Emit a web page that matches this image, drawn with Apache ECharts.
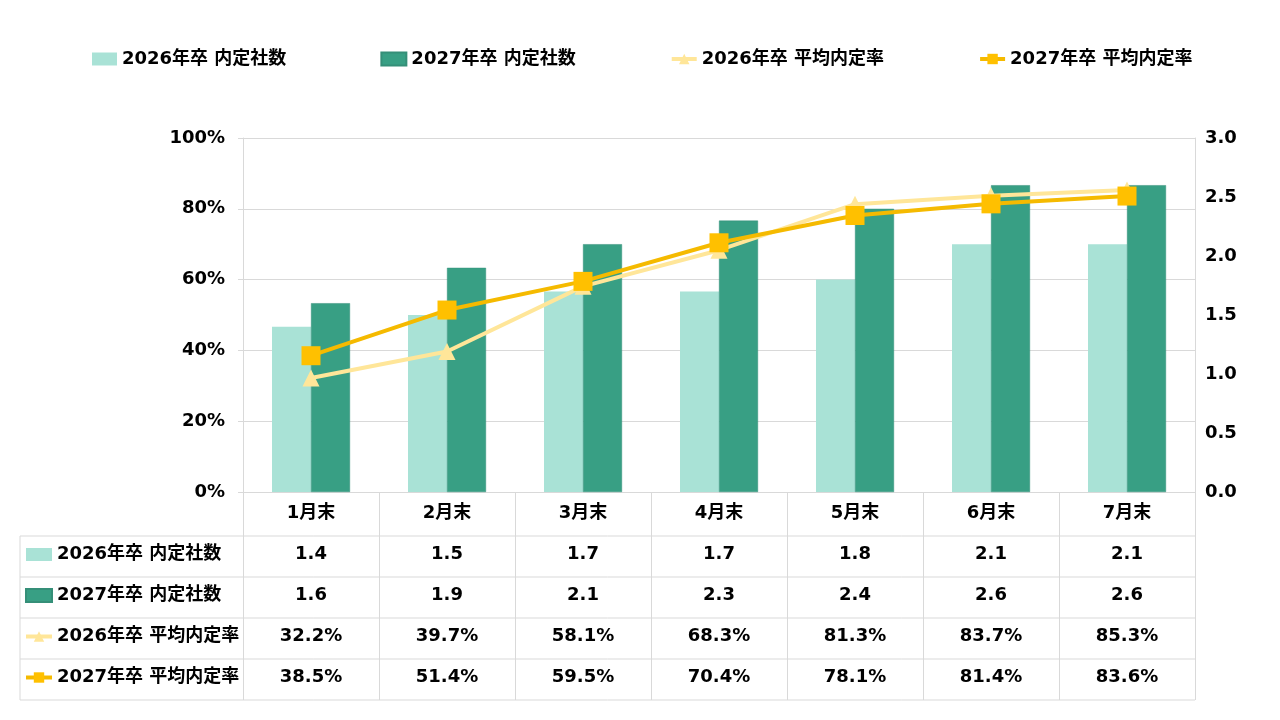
<!DOCTYPE html>
<html>
<head>
<meta charset="utf-8">
<script src="https://cdn.jsdelivr.net/npm/echarts@6/dist/echarts.min.js"></script>
<style>
  html, body { margin: 0; padding: 0; background: #fff; }
  #main { width: 1280px; height: 720px; }
</style>
</head>
<body>
<div id="main"></div>
<script>
// 内定社数・平均内定率 推移（2026年卒 vs 2027年卒）
var months = ['1月末', '2月末', '3月末', '4月末', '5月末', '6月末', '7月末'];
var offers2026 = [1.4, 1.5, 1.7, 1.7, 1.8, 2.1, 2.1];
var offers2027 = [1.6, 1.9, 2.1, 2.3, 2.4, 2.6, 2.6];
var rate2026 = [32.2, 39.7, 58.1, 68.3, 81.3, 83.7, 85.3];
var rate2027 = [38.5, 51.4, 59.5, 70.4, 78.1, 81.4, 83.6];
var seriesNames = ['2026年卒 内定社数', '2027年卒 内定社数', '2026年卒 平均内定率', '2027年卒 平均内定率'];

var FONT = "'DejaVu Sans', 'Noto Sans CJK JP', sans-serif";
var GRID_LINE = '#d9d9d9';
var txt = { color: '#000', fontFamily: FONT, fontWeight: 'bold', fontSize: 18 };

function fmtNum(v) { return v.toFixed(1); }
function fmtPct(v) { return v.toFixed(1) + '%'; }

// table rows under the plot, each drawn as an extra x axis
var tableRows = [
  offers2026.map(fmtNum),
  offers2027.map(fmtNum),
  rate2026.map(fmtPct),
  rate2027.map(fmtPct)
];
var rowOffsets = [45, 86, 127, 168];

var xAxes = [{
  type: 'category',
  data: months,
  position: 'bottom',
  axisLine: { show: true, lineStyle: { color: GRID_LINE, width: 1 } },
  axisTick: { show: true, length: 208, lineStyle: { color: GRID_LINE, width: 1 } },
  axisLabel: Object.assign({ margin: 12 }, txt)
}];
tableRows.forEach(function(row, i) {
  xAxes.push({
    type: 'category',
    data: row,
    position: 'bottom',
    offset: rowOffsets[i],
    axisLine: { show: false },
    axisTick: { show: false },
    splitLine: { show: false },
    axisLabel: Object.assign({ margin: 8 }, txt)
  });
});

// table borders
var tableLines = [];
[536, 577, 618, 659, 700].forEach(function(y) {
  tableLines.push({ type: 'line', shape: { x1: 20, y1: y, x2: 1195, y2: y }, style: { stroke: GRID_LINE, lineWidth: 1 } });
});
tableLines.push({ type: 'line', shape: { x1: 20, y1: 536, x2: 20, y2: 700 }, style: { stroke: GRID_LINE, lineWidth: 1 } });

var legendData = seriesNames.map(function(n, i) {
  return i < 2 ? { name: n, icon: 'rect' } : { name: n };
});

var chart = echarts.init(document.getElementById('main'));
chart.setOption({
  animation: false,
  backgroundColor: '#fff',
  legend: [{
    data: legendData,
    left: 92, top: 50,
    padding: 0,
    itemGap: 94,
    itemWidth: 25, itemHeight: 13,
    lineStyle: { width: 4 },
    textStyle: txt
  }, {
    data: legendData,
    orient: 'vertical',
    left: 24, top: 545,
    padding: 0,
    itemGap: 22,
    itemWidth: 26, itemHeight: 13,
    lineStyle: { width: 4 },
    textStyle: Object.assign({ lineHeight: 19 }, txt)
  }],
  grid: { left: 243, right: 85, top: 138, bottom: 228, outerBoundsMode: 'none' },
  xAxis: xAxes,
  yAxis: [{
    type: 'value',
    min: 0, max: 100, interval: 20,
    axisLine: { show: true, lineStyle: { color: GRID_LINE } },
    axisTick: { show: true, length: 5, lineStyle: { color: GRID_LINE } },
    splitLine: { show: true, lineStyle: { color: GRID_LINE } },
    axisLabel: Object.assign({ margin: 18, formatter: '{value}%' }, txt)
  }, {
    type: 'value',
    min: 0, max: 3, interval: 0.5,
    position: 'right',
    axisLine: { show: true, lineStyle: { color: GRID_LINE } },
    axisTick: { show: false },
    splitLine: { show: false },
    axisLabel: Object.assign({ margin: 10, formatter: function(v) { return v.toFixed(1); } }, txt)
  }],
  series: [{
    name: seriesNames[0], type: 'bar', yAxisIndex: 1,
    data: offers2026, barWidth: 39, barGap: '0%',
    itemStyle: { color: '#A9E2D6' }
  }, {
    name: seriesNames[1], type: 'bar', yAxisIndex: 1,
    data: offers2027, barWidth: 39, barGap: '0%',
    itemStyle: { color: '#389F84', borderColor: '#358F78', borderWidth: 0.5 }
  }, {
    name: seriesNames[2], type: 'line', yAxisIndex: 0,
    data: rate2026,
    symbol: 'triangle', symbolSize: 17,
    lineStyle: { color: '#FFE699', width: 4 },
    itemStyle: { color: '#FFE699' }
  }, {
    name: seriesNames[3], type: 'line', yAxisIndex: 0,
    data: rate2027,
    symbol: 'rect', symbolSize: 19,
    lineStyle: { color: '#F5BA00', width: 4 },
    itemStyle: { color: '#FFC000' }
  }],
  graphic: tableLines
});
</script>
</body>
</html>
